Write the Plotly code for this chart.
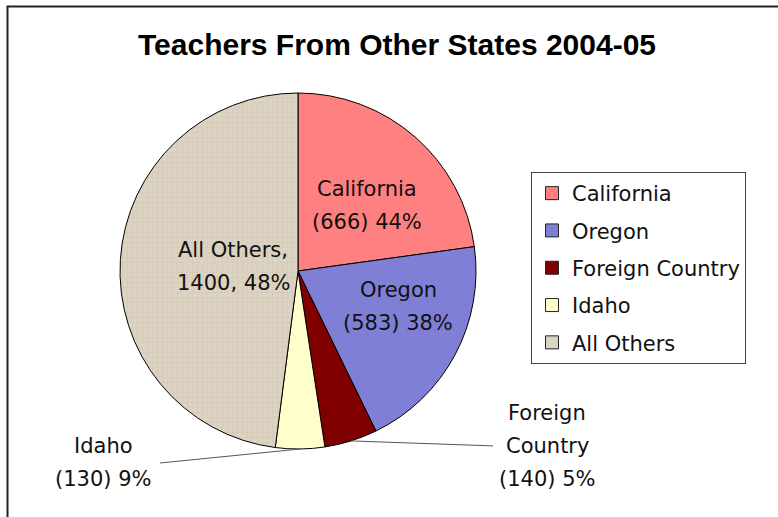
import math
import plotly.graph_objects as go

# ---- data ----
categories = ["California", "Oregon", "Foreign Country", "Idaho", "All Others"]
values = [666, 583, 140, 130, 1400]
label_lines = [
    ["California", "(666) 44%"],
    ["Oregon", "(583) 38%"],
    ["Foreign", "Country", "(140) 5%"],
    ["Idaho", "(130) 9%"],
    ["All Others,", "1400, 48%"],
]
colors = ["#FF8080", "#7F7FD6", "#800000", "#FFFFCC", "#DDD3C2"]

W, H = 778, 517
dom_x = [120 / W, 476 / W]
dom_y = [1 - 449 / H, 1 - 93 / H]
FS = 21
LINE_GAP = 33

# label placement: inside labels -> (fraction of slice sweep, fraction of radius)
inside_place = {0: (0.564, 0.536), 1: (0.38, 0.596), 4: (0.502, 0.366)}
# outside labels -> (leader end offset px, label centre offset px) from rim midpoint
outside_place = {2: ((142, 5), (196, 5)), 3: ((-140, 14), (-197, 14))}

fig = go.Figure()
fig.add_trace(go.Pie(
    labels=categories,
    values=values,
    sort=False,
    direction="clockwise",
    rotation=0,
    domain=dict(x=dom_x, y=dom_y),
    marker=dict(colors=colors, line=dict(color="#000000", width=1),
                pattern=dict(shape=["", "", "", "", "+"], size=5, solidity=0.2,
                             fillmode="overlay", fgcolor="#C8BAA3", fgopacity=0.5)),
    textinfo="none",
    showlegend=False,
    hoverinfo="label+value",
))

# legend entries via marker-only traces so the item spacing can be opened up
for i, (c, col) in enumerate(zip(categories, colors)):
    fig.add_trace(go.Scatter(
        x=[None], y=[None], mode="markers", name=c,
        marker=dict(symbol="square", size=13, color=col, line=dict(color="#222", width=1)),
        legendgroup=f"g{i}", showlegend=True,
    ))

total = sum(values)
cx = (dom_x[0] + dom_x[1]) / 2 * W
cy = (1 - (dom_y[0] + dom_y[1]) / 2) * H
R = min((dom_x[1] - dom_x[0]) * W, (dom_y[1] - dom_y[0]) * H) / 2


def polar(ang_frac, rad):
    a = ang_frac * 2 * math.pi
    return cx + rad * math.sin(a), cy - rad * math.cos(a)


annotations = []
shapes = []


def add_lines(lines, x, y):
    n = len(lines)
    for k, ln in enumerate(lines):
        yy = y + (k - (n - 1) / 2) * LINE_GAP
        annotations.append(dict(
            x=x / W, y=1 - yy / H, xref="paper", yref="paper", text=ln,
            showarrow=False, xanchor="center", yanchor="middle",
            font=dict(family="DejaVu Sans", size=FS, color="#111111"),
        ))


cum = 0
for i, v in enumerate(values):
    start, end = cum, cum + v
    cum = end
    if i in inside_place:
        f, rf = inside_place[i]
        x, y = polar((start + f * v) / total, rf * R)
        add_lines(label_lines[i], x, y)
    elif i in outside_place:
        (ex, ey), (lx, ly) = outside_place[i]
        px, py = polar((start + end) / 2 / total, R)
        shapes.append(dict(type="line", xref="paper", yref="paper",
                           x0=px / W, y0=1 - py / H, x1=(px + ex) / W, y1=1 - (py + ey) / H,
                           line=dict(color="#555555", width=1)))
        add_lines(label_lines[i], px + lx, py + ly)

shapes.append(dict(type="rect", xref="paper", yref="paper",
                   x0=7.5 / W, x1=1.05, y0=-0.05, y1=1 - 6.5 / H,
                   line=dict(color="#222222", width=2), fillcolor="rgba(0,0,0,0)"))

fig.update_layout(
    width=W, height=H,
    margin=dict(l=0, r=0, t=0, b=0),
    paper_bgcolor="white", plot_bgcolor="white",
    title=dict(text="Teachers From Other States 2004-05", x=397 / W, y=1 - 44 / H,
               xanchor="center", yanchor="middle",
               font=dict(family="Liberation Sans, Arial", size=30, color="#000000", weight="bold")),
    xaxis=dict(visible=False), yaxis=dict(visible=False),
    legend=dict(x=531 / W, y=1 - 172 / H, xanchor="left", yanchor="top",
                font=dict(family="DejaVu Sans", size=FS, color="#111111"),
                bordercolor="#444444", borderwidth=1, bgcolor="white",
                traceorder="grouped", tracegroupgap=7),
    annotations=annotations,
    shapes=shapes,
)

fig.write_html("out.html", config={"displayModeBar": False},
               post_script="document.body.style.margin='0px';")
